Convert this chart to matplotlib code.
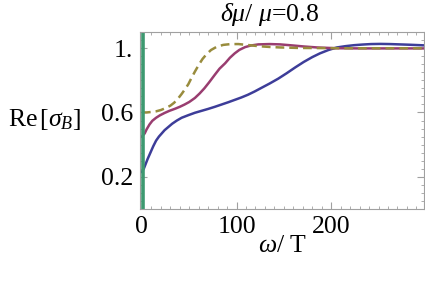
import numpy as np
import matplotlib.pyplot as plt
from matplotlib.ticker import MultipleLocator, FixedLocator

plt.rcParams['font.family'] = ['Liberation Serif', 'DejaVu Serif']
plt.rcParams['mathtext.fontset'] = 'custom'
plt.rcParams['mathtext.rm'] = 'Liberation Serif'
plt.rcParams['mathtext.it'] = 'Liberation Serif:italic'

# values
x_blue = [0, 2, 4, 6, 9, 12, 15, 18, 21, 24, 28, 32, 37, 42, 49, 56, 63, 70,
          77, 84, 91, 98, 105, 112, 119, 126, 135, 144, 153, 162, 171, 180,
          188, 197, 206, 215, 224, 233, 242, 252, 262, 272, 282, 298]
y_blue = [0.23, 0.25, 0.28, 0.31, 0.35, 0.39, 0.425, 0.45, 0.47, 0.49, 0.51,
          0.53, 0.55, 0.567, 0.583, 0.598, 0.61, 0.622, 0.635, 0.649, 0.663,
          0.678, 0.693, 0.71, 0.73, 0.752, 0.78, 0.81, 0.844, 0.88, 0.914,
          0.944, 0.967, 0.988, 1.004, 1.012, 1.018, 1.022, 1.025, 1.026,
          1.025, 1.023, 1.021, 1.017]

x_mag = [0, 3, 5, 8, 11, 15, 19, 24, 29, 35, 40, 45, 50, 56, 61, 66, 71, 77,
         82, 88, 93, 98, 103, 109, 115, 123, 135, 146, 160, 171, 185, 206,
         230, 260, 298]
y_mag = [0.45, 0.47, 0.495, 0.525, 0.548, 0.567, 0.582, 0.597, 0.61, 0.623,
         0.635, 0.649, 0.665, 0.69, 0.718, 0.75, 0.787, 0.834, 0.872, 0.906,
         0.94, 0.967, 0.989, 1.006, 1.016, 1.023, 1.025, 1.023, 1.016, 1.01,
         1.004, 0.999, 0.998, 0.998, 0.998]

x_gold = [0, 5, 10, 15, 20, 25, 30, 34, 38, 42, 45, 49, 52, 56, 60, 64, 68,
          73, 79, 86, 94, 102, 112, 123, 135, 146, 165, 190, 220, 260, 298]
y_gold = [0.60, 0.60, 0.603, 0.607, 0.615, 0.627, 0.642, 0.66, 0.685, 0.715,
          0.74, 0.775, 0.81, 0.854, 0.895, 0.932, 0.96, 0.988, 1.008, 1.02,
          1.025, 1.025, 1.019, 1.012, 1.007, 1.004, 1.001, 1.0, 0.999, 0.999,
          0.999]

x_green = 1

xticks = [0, 100, 200]
yticks = [0.2, 0.6, 1.0]
ytick_labels = ['0.2', '0.6', '1.']

fig = plt.figure(figsize=(4.25, 2.85), dpi=100)
ax = fig.add_axes([140/425, 1 - 209/285, 284/425, 177/285])

ax.plot(x_blue, y_blue, color=(0.24, 0.24, 0.6), lw=1.8)
ax.plot(x_mag, y_mag, color=(0.6, 0.24, 0.44), lw=1.8)
ax.plot(x_gold, y_gold, color=(0.6, 0.55, 0.24), lw=1.8, ls=(0, (3.5, 2)))
ax.axvline(x_green, color=(0.24, 0.6, 0.44), lw=2.6)

ax.set_xlim(-2, 298)
ax.set_ylim(0, 1.1)

ax.xaxis.set_major_locator(FixedLocator(xticks))
ax.xaxis.set_minor_locator(MultipleLocator(10))
ax.yaxis.set_major_locator(FixedLocator(yticks))
ax.yaxis.set_minor_locator(MultipleLocator(0.05))
ax.set_yticklabels(ytick_labels)

for s in ax.spines.values():
    s.set_color('#a0a0a0')
    s.set_linewidth(0.8)
ax.tick_params(which='both', direction='in', top=True, right=True,
               color='#a0a0a0', labelsize=18.5, pad=5)
ax.tick_params(which='major', length=5, width=0.8)
ax.tick_params(which='minor', length=2.5, width=0.6)

fig.text(270/425, 1 - 14/285, r'$\delta\mu$/ $\mu$=0.8', ha='center',
         va='center', fontsize=18.5)
fig.text(283/425, 1 - 246/285, r'$\omega$/ T', ha='center', va='center',
         fontsize=18.5)
fig.text(45/425, 1 - 120/285, r'Re$\,[\sigma_B]$', ha='center', va='center',
         fontsize=18.5)

fig.savefig('out.png', dpi=100)
